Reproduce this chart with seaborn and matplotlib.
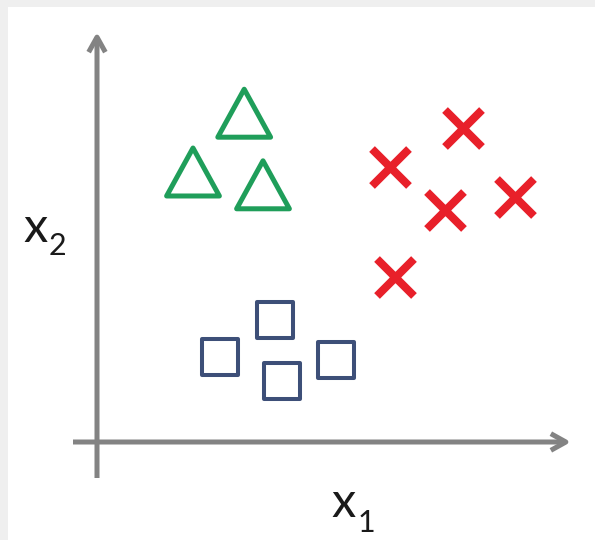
import matplotlib
matplotlib.use("Agg")
import matplotlib.pyplot as plt
from matplotlib.path import Path
from matplotlib.patches import Rectangle
import seaborn as sns
import pandas as pd

# Feature values for each class (x1, x2)
triangle_x1 = [3.68, 2.40, 4.15]
triangle_x2 = [8.22, 6.75, 6.43]

cross_x1 = [9.15, 7.33, 8.70, 10.45, 7.45]
cross_x2 = [7.85, 6.88, 5.80, 6.13, 4.13]

square_x1 = [4.45, 3.08, 4.63, 5.98]
square_x2 = [3.05, 2.13, 1.53, 2.05]

axis_names = ["x", "x"]
axis_subs = ["1", "2"]

GREEN = "#1f9e5a"
RED = "#e8202a"
BLUE = "#3d4f78"
GREY = "#838383"

sns.set_theme(style="white")
plt.rcParams["font.family"] = ["Lato", "DejaVu Sans"]

fig = plt.figure(figsize=(5.95, 5.40), dpi=100, facecolor="white")
ax = fig.add_axes([0, 0, 1, 1])
ax.set_xlim(-2.425, 12.45)
ax.set_ylim(-2.45, 11.05)
ax.axis("off")

# light frame along the top and left edges
fig.patches.append(Rectangle((0, 0), 8 / 595, 1, transform=fig.transFigure,
                             facecolor="#efefef", edgecolor="none", zorder=0))
fig.patches.append(Rectangle((0, 1 - 7 / 540), 1, 7 / 540, transform=fig.transFigure,
                             facecolor="#efefef", edgecolor="none", zorder=0))

# axes drawn as arrows
arrow_kw = dict(arrowstyle="->,head_length=0.9,head_width=0.5", lw=3.6,
                color=GREY, shrinkA=0, shrinkB=0, capstyle="butt")
ax.annotate("", xy=(11.85, 0), xytext=(-0.6, 0), arrowprops=arrow_kw)
ax.annotate("", xy=(0, 10.25), xytext=(0, -0.9), arrowprops=arrow_kw)

df_tri = pd.DataFrame({"x1": triangle_x1, "x2": triangle_x2})
df_crs = pd.DataFrame({"x1": cross_x1, "x2": cross_x2})
df_sq = pd.DataFrame({"x1": square_x1, "x2": square_x2})

tri_marker = Path([(0, 1), (-1.1, -1), (1.1, -1), (0, 1)],
                  [Path.MOVETO, Path.LINETO, Path.LINETO, Path.CLOSEPOLY])

sns.scatterplot(data=df_tri, x="x1", y="x2", ax=ax, marker=tri_marker, s=1444,
                facecolor="none", edgecolor=GREEN, linewidth=3.6, zorder=3)
sns.scatterplot(data=df_crs, x="x1", y="x2", ax=ax, marker="x", s=708,
                color=RED, edgecolor=RED, linewidth=5.8, zorder=3)
sns.scatterplot(data=df_sq, x="x1", y="x2", ax=ax, marker="s", s=676,
                facecolor="none", edgecolor=BLUE, linewidth=2.9, zorder=3)

ax.set_xlim(-2.425, 12.45)
ax.set_ylim(-2.45, 11.05)

# axis names with subscripts
txt = dict(color="#1a1a1a", ha="center", va="baseline")
ax.text(6.175, -1.875, axis_names[0], fontsize=35, **txt)
ax.text(6.725, -2.25, axis_subs[0], fontsize=22, **txt)
ax.text(-1.525, 5.0, axis_names[1], fontsize=35, **txt)
ax.text(-0.99, 4.675, axis_subs[1], fontsize=22, **txt)

fig.savefig("out.png", dpi=100, facecolor="white")
